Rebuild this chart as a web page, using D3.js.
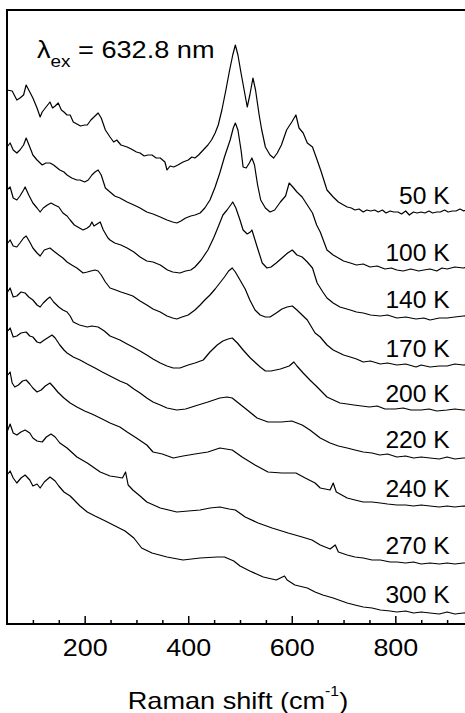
<!DOCTYPE html>
<html>
<head>
<meta charset="utf-8">
<script src="https://cdn.jsdelivr.net/npm/d3@7"></script>
<style>
  body { margin: 0; background: #fff; }
  svg { display: block; }
  text { font-family: "Liberation Sans", Arial, Helvetica, sans-serif; fill: #000; }
</style>
</head>
<body>
<div id="chart"></div>
<script>
// temperature labels and the intensity level where each label sits
const temps = ["50 K", "100 K", "140 K", "170 K", "200 K", "220 K", "240 K", "270 K", "300 K"];
const labelLevels = [420, 363, 316, 267, 222, 176, 127, 70, 21];
const majorTicks = [200, 400, 600, 800];

// spectra: [Raman shift (cm-1), offset intensity (a.u.)]
const spec50 = [[50,534],[60,533],[69,524],[75,526],[82,529],[87,539],[94,532],[100,526],[108,516],[114,507],[118,512],[124,516],[133,522],[138,516],[143,518],[149,521],[155,514],[160,512],[166,509],[172,509],[178,502],[185,500],[192,498],[200,499],[205,499],[212,504],[218,507],[226,511],[232,506],[240,494],[249,487],[256,482],[262,484],[270,479],[282,477],[290,475],[300,472],[307,471],[315,468],[322,469],[330,469],[338,466],[346,466],[355,462],[359,454],[365,458],[372,457],[380,459],[390,462],[400,464],[407,467],[413,466],[420,469],[429,474],[438,479],[445,484],[452,491],[458,499],[465,514],[472,532],[480,554],[486,569],[491,579],[496,569],[502,551],[508,534],[514,517],[519,529],[525,546],[530,534],[537,509],[542,494],[549,477],[558,469],[565,466],[572,471],[580,479],[590,494],[600,502],[608,509],[614,496],[622,491],[630,481],[640,477],[649,464],[657,452],[668,434],[680,427],[690,422],[700,419],[707,417],[715,416],[722,414],[730,415],[738,412],[745,414],[752,413],[760,414],[767,412],[775,414],[782,411],[790,413],[797,412],[805,412],[812,410],[820,413],[827,409],[835,412],[842,411],[850,412],[857,411],[865,413],[872,411],[880,412],[887,412],[895,414],[902,412],[910,413],[917,413],[925,415],[932,413],[940,415],[950,414]];

const spec100 = [[50,477],[56,481],[62,474],[69,471],[75,474],[82,479],[87,486],[94,477],[100,469],[108,464],[118,459],[125,461],[133,461],[140,459],[152,454],[160,452],[166,449],[175,446],[185,444],[191,444],[200,442],[207,444],[214,449],[220,452],[226,454],[232,449],[240,436],[249,432],[258,428],[268,426],[282,422],[295,419],[307,416],[320,412],[332,410],[346,407],[359,404],[370,402],[378,401],[386,403],[395,406],[405,408],[413,409],[423,411],[432,416],[442,424],[452,437],[461,451],[470,467],[481,484],[487,496],[491,501],[496,494],[502,474],[506,457],[512,456],[518,461],[523,466],[528,459],[534,439],[540,424],[549,416],[558,412],[567,414],[578,422],[588,428],[595,441],[602,437],[610,432],[620,427],[630,419],[640,411],[648,399],[655,392],[668,374],[680,369],[690,366],[700,363],[713,361],[725,359],[738,360],[751,357],[765,358],[780,355],[792,356],[803,354],[815,353],[830,355],[845,353],[855,354],[867,355],[880,353],[890,356],[900,355],[915,357],[931,356],[950,358]];

const spec140 = [[50,434],[56,437],[62,426],[69,424],[75,428],[82,434],[85,437],[92,429],[100,421],[108,416],[114,412],[120,416],[128,419],[135,421],[142,419],[150,417],[158,411],[166,408],[172,404],[180,399],[190,396],[197,394],[205,396],[210,398],[214,402],[218,398],[224,400],[230,402],[236,394],[245,386],[249,384],[258,381],[270,379],[282,376],[295,372],[307,367],[320,363],[332,362],[346,359],[360,354],[370,352],[384,351],[395,353],[405,354],[413,357],[425,364],[438,374],[449,386],[457,396],[467,409],[475,414],[482,419],[486,422],[492,416],[500,404],[506,394],[514,390],[520,392],[523,394],[529,384],[535,374],[543,361],[552,356],[560,357],[570,361],[581,366],[592,371],[601,374],[610,369],[620,367],[630,362],[640,356],[649,341],[660,332],[668,326],[680,321],[693,317],[713,314],[725,312],[738,311],[752,309],[771,308],[785,309],[803,306],[820,307],[840,305],[855,306],[867,304],[885,306],[900,306],[915,307],[931,308],[950,309]];

const spec170 = [[50,380],[56,384],[62,378],[69,377],[75,381],[82,386],[87,388],[94,382],[100,376],[108,371],[114,368],[122,374],[133,376],[140,373],[150,369],[158,366],[166,362],[175,359],[185,356],[197,351],[205,352],[212,353],[220,354],[226,353],[232,349],[240,342],[249,336],[260,334],[270,332],[282,330],[293,328],[307,323],[320,319],[332,315],[346,312],[359,308],[370,306],[378,305],[388,307],[400,309],[413,314],[423,319],[432,324],[442,329],[452,335],[461,341],[470,347],[478,353],[485,356],[491,352],[500,344],[510,335],[519,324],[529,314],[539,309],[549,307],[558,307],[570,311],[581,315],[591,317],[601,318],[610,314],[620,309],[630,304],[645,291],[655,287],[668,279],[680,274],[700,269],[713,267],[725,265],[738,262],[752,263],[771,260],[785,261],[803,259],[820,260],[840,257],[850,259],[867,257],[885,258],[900,258],[915,260],[931,259],[950,260]];

const spec200 = [[50,331],[56,336],[62,327],[69,328],[77,332],[85,331],[92,327],[100,324],[108,319],[114,317],[120,321],[128,325],[133,327],[140,322],[150,317],[158,314],[166,312],[172,308],[178,302],[190,299],[205,297],[214,298],[226,297],[238,293],[249,288],[268,284],[282,280],[293,277],[307,273],[320,269],[332,265],[346,261],[359,258],[371,256],[384,256],[400,259],[413,261],[429,264],[442,272],[456,279],[467,283],[477,285],[485,286],[495,281],[506,274],[520,266],[539,257],[549,253],[560,253],[578,255],[595,258],[604,262],[610,258],[622,251],[635,244],[649,237],[668,227],[693,221],[707,220],[720,219],[735,218],[750,217],[765,218],[780,215],[800,215],[815,216],[830,214],[850,214],[865,215],[880,213],[900,214],[915,215],[931,214],[950,214]];

const spec220 = [[50,292],[56,296],[62,287],[69,288],[77,291],[87,292],[94,288],[100,287],[108,282],[114,281],[122,284],[131,287],[137,289],[143,286],[152,279],[160,274],[166,271],[178,267],[191,264],[205,260],[220,256],[234,252],[249,248],[268,243],[282,240],[295,235],[307,231],[320,226],[332,222],[346,219],[359,216],[378,214],[395,215],[413,218],[438,222],[461,226],[475,227],[485,226],[497,221],[514,214],[533,206],[554,202],[580,202],[600,203],[620,199],[635,194],[655,186],[674,181],[690,178],[707,176],[722,174],[738,172],[755,171],[770,169],[785,170],[803,167],[820,168],[835,166],[850,167],[867,166],[885,165],[900,167],[915,165],[931,166],[950,166]];

const spec240 = [[50,248],[56,252],[60,241],[65,237],[72,239],[80,243],[87,244],[94,240],[100,236],[108,232],[116,234],[124,238],[133,241],[140,237],[148,232],[160,226],[172,221],[185,217],[200,213],[214,210],[230,206],[249,201],[268,197],[282,192],[300,186],[320,179],[332,172],[350,170],[371,166],[390,168],[413,170],[438,172],[461,176],[485,174],[504,167],[529,159],[554,152],[581,151],[608,151],[626,146],[645,141],[655,136],[674,134],[680,141],[686,132],[707,126],[722,124],[738,122],[755,122],[771,121],[785,120],[803,119],[820,119],[835,118],[850,119],[867,118],[885,117],[900,118],[915,117],[931,118],[950,117]];

const spec270 = [[50,192],[56,200],[62,191],[69,189],[77,192],[85,194],[94,191],[100,186],[108,183],[118,182],[126,187],[135,190],[143,187],[152,181],[166,176],[185,167],[205,161],[230,152],[249,148],[262,147],[273,146],[279,152],[284,139],[293,134],[307,128],[320,122],[346,116],[378,112],[400,113],[423,114],[442,116],[461,117],[479,115],[491,114],[510,107],[535,101],[562,96],[593,91],[620,87],[639,84],[655,79],[674,75],[684,79],[690,72],[707,69],[722,67],[738,66],[755,64],[771,64],[790,62],[803,62],[820,61],[835,62],[850,60],[867,61],[885,60],[900,61],[915,60],[931,61],[950,61]];

const spec300 = [[50,149],[56,153],[62,146],[69,141],[77,146],[85,149],[94,144],[100,138],[108,140],[114,136],[122,142],[133,147],[143,143],[150,138],[160,132],[172,128],[191,118],[205,112],[220,108],[240,103],[259,98],[278,93],[295,86],[310,76],[330,71],[359,67],[390,64],[423,66],[456,67],[470,67],[488,63],[500,58],[519,53],[545,47],[570,44],[586,48],[591,44],[606,39],[630,36],[645,32],[660,29],[680,26],[707,21],[722,19],[738,17],[755,16],[771,14],[790,13],[803,12],[820,13],[835,11],[850,12],[867,11],[885,10],[900,12],[915,10],[931,11],[950,12]];

const spectra = [spec50, spec100, spec140, spec170, spec200, spec220, spec240, spec270, spec300];

const W = 465, H = 713;
const margin = { top: 10, left: 7 };
const plotW = 466, plotH = 614;

const svg = d3.select("#chart")
  .append("svg")
  .attr("width", W)
  .attr("height", H);

const g = svg.append("g")
  .attr("transform", `translate(${margin.left},${margin.top})`);

// scales
const x = d3.scaleLinear().domain([50, 950]).range([0, plotW]);
const y = d3.scaleLinear().domain([0, 614]).range([plotH, 0]);

// minor ticks every 50
const minorAxis = d3.axisBottom(x)
  .tickValues(d3.range(100, 951, 50).filter(d => !majorTicks.includes(d)))
  .tickSize(-4)
  .tickFormat("");
g.append("g")
  .attr("transform", `translate(0,${plotH})`)
  .call(minorAxis)
  .call(a => a.select(".domain").remove())
  .selectAll("line").attr("stroke-width", 1.5);

// major ticks with labels
const majorAxis = d3.axisBottom(x)
  .tickValues(majorTicks)
  .tickSize(-8)
  .tickPadding(15)
  .tickFormat(d3.format("d"));
const xAxisG = g.append("g")
  .attr("transform", `translate(0,${plotH})`)
  .call(majorAxis);
xAxisG.select(".domain").remove();
xAxisG.selectAll("line").attr("stroke-width", 1.5);
xAxisG.attr("font-family", null).attr("font-size", null);
xAxisG.selectAll("text")
  .attr("font-size", 24)
  .attr("transform", "scale(1.12,1)");

// frame
g.append("rect")
  .attr("width", plotW)
  .attr("height", plotH)
  .attr("fill", "none")
  .attr("stroke", "#000")
  .attr("stroke-width", 2);

// spectra
const line = d3.line()
  .x(d => x(d[0]))
  .y(d => y(d[1]));

g.selectAll(".spectrum")
  .data(spectra)
  .enter()
  .append("path")
  .attr("class", "spectrum")
  .attr("d", line)
  .attr("fill", "none")
  .attr("stroke", "#000")
  .attr("stroke-width", 1.2)
  .attr("stroke-linejoin", "round");

// temperature labels
g.selectAll(".temp")
  .data(temps)
  .enter()
  .append("g")
  .attr("class", "temp")
  .attr("transform", (d, i) => `translate(${x(905)},${y(labelLevels[i])}) scale(1.07,1)`)
  .append("text")
  .attr("text-anchor", "end")
  .attr("font-size", 23)
  .text(d => d);

// excitation wavelength
const lam = svg.append("g")
  .attr("transform", "translate(37,58) scale(1.18,1)")
  .append("text")
  .attr("font-size", 23);
lam.append("tspan").text("λ");
lam.append("tspan").attr("font-size", 16).attr("dy", 9).text("ex");
lam.append("tspan").attr("dy", -9).text(" = 632.8 nm");

// axis title
const title = svg.append("g")
  .attr("transform", "translate(238,709) scale(1.13,1)")
  .append("text")
  .attr("text-anchor", "middle")
  .attr("font-size", 24);
title.append("tspan").text("Raman shift (cm");
title.append("tspan").attr("font-size", 14).attr("dy", -13).text("-1");
title.append("tspan").attr("dy", 13).text(")");
</script>
</body>
</html>
